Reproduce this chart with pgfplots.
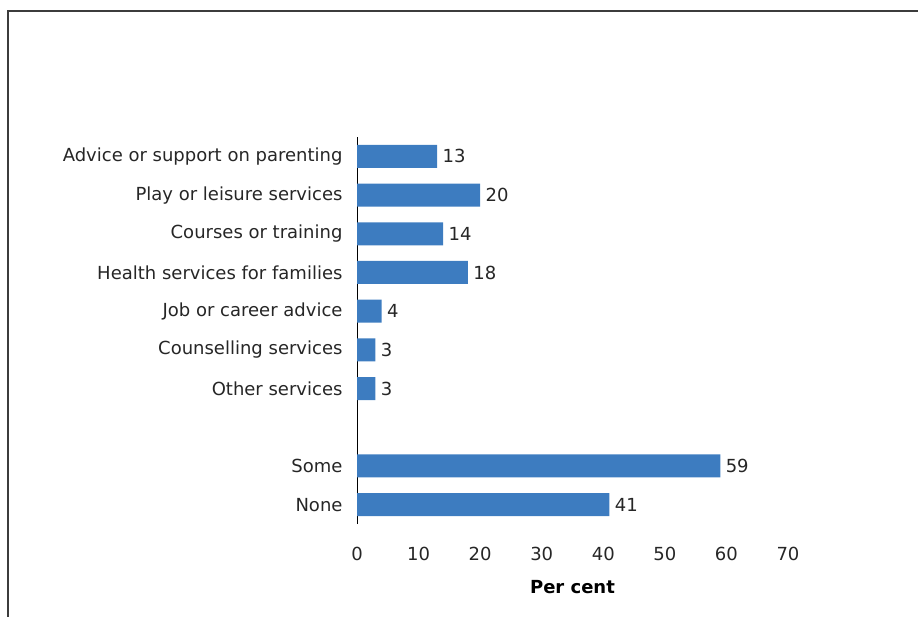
\documentclass[border=0pt]{standalone}
\usepackage{pgfplots}
\pgfplotsset{compat=1.18}
\usepackage{fontspec}
\setmainfont{DejaVu Sans}
\definecolor{barblue}{RGB}{61,124,192}
\definecolor{framegray}{RGB}{60,60,60}
\begin{document}
\begin{tikzpicture}[font=\fontsize{18bp}{22bp}\selectfont]
\path[use as bounding box] (0,0) rectangle (918bp,-617bp);
\draw[framegray, line width=2bp] (8bp,-617bp) -- (8bp,-11bp) -- (918bp,-11bp);
\begin{axis}[
  at={(357bp,-524bp)}, anchor=south west,
  scale only axis, width=431bp, height=387bp,
  xbar, bar width=23bp,
  xmin=0, xmax=70, ymin=-0.5, ymax=9.5,
  xtick={0,10,...,70},
  ytick={0,1,3,4,5,6,7,8,9},
  yticklabels={None,Some,Other services,Counselling services,Job or career advice,Health services for families,Courses or training,Play or leisure services,Advice or support on parenting},
  major tick length=0pt,
  axis x line*=bottom, axis y line*=left,
  x axis line style={draw=none},
  y axis line style={black, line width=0.8bp, -},
  /pgf/number format/assume math mode=true,
  xticklabel style={yshift=-20bp, text=black!85},
  yticklabel style={xshift=-11bp, text=black!85},
  xlabel={\textbf{Per cent}},
  xlabel style={yshift=-12bp},
  nodes near coords,
  nodes near coords style={text=black!85, anchor=west, xshift=2bp},
  point meta=x,
  clip=false,
]
\addplot[fill=barblue, draw=none] coordinates {
(41,0) (59,1) (3,3) (3,4) (4,5) (18,6) (14,7) (20,8) (13,9)
};
\end{axis}
\end{tikzpicture}
\end{document}
